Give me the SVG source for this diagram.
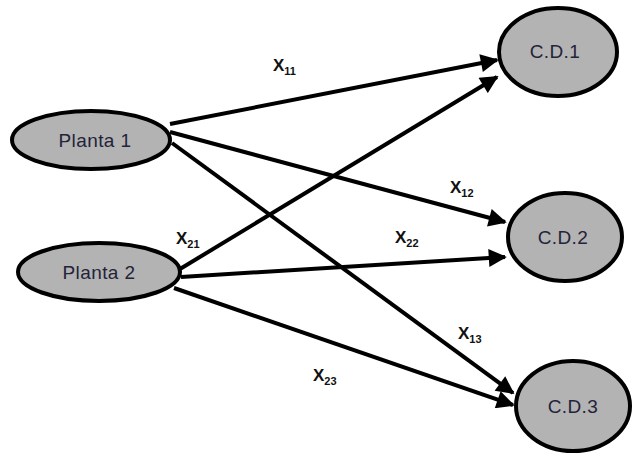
<svg xmlns="http://www.w3.org/2000/svg" width="640" height="464" viewBox="0 0 640 464">
<style>
.node{fill:#b3b3b3;stroke:#000;stroke-width:4}
.nt{font-family:"Liberation Sans",Arial,sans-serif;font-size:19px;letter-spacing:0.4px;fill:#23233a;text-anchor:middle}
.edge{stroke:#000;stroke-width:4;fill:none;marker-end:url(#ah)}
.lab{font-family:"Liberation Sans",Arial,sans-serif;font-weight:bold;font-size:17px;fill:#111}
.sub{font-size:11px}
</style>
<defs>
<marker id="ah" viewBox="0 0 10 10" refX="9" refY="5" markerWidth="5" markerHeight="4.5" orient="auto" markerUnits="strokeWidth">
<path d="M0,0 L10,5 L0,10 Z" fill="#000"/>
</marker>
</defs>
<rect width="640" height="464" fill="#fff"/>
<g id="connectors">
<line class="edge" x1="170" y1="124" x2="497" y2="60"/>
<line class="edge" x1="170" y1="132" x2="505" y2="222"/>
<line class="edge" x1="172" y1="143" x2="513" y2="393"/>
<line class="edge" x1="180" y1="269" x2="497" y2="77"/>
<line class="edge" x1="181" y1="277" x2="505" y2="257"/>
<line class="edge" x1="174" y1="288" x2="513" y2="405"/>
</g>
<g id="labels">
<text class="lab" x="273" y="71">X<tspan class="sub" dy="4">11</tspan></text>
<text class="lab" x="450" y="193">X<tspan class="sub" dy="4">12</tspan></text>
<text class="lab" x="458" y="339">X<tspan class="sub" dy="4">13</tspan></text>
<text class="lab" x="176" y="244">X<tspan class="sub" dy="4">21</tspan></text>
<text class="lab" x="395" y="243">X<tspan class="sub" dy="4">22</tspan></text>
<text class="lab" x="313" y="381">X<tspan class="sub" dy="4">23</tspan></text>
</g>
<g id="planta1"><ellipse class="node" cx="91" cy="140" rx="79" ry="29"/><text class="nt" x="95" y="147">Planta 1</text></g>
<g id="planta2"><ellipse class="node" cx="99" cy="272" rx="81" ry="29"/><text class="nt" x="99" y="279">Planta 2</text></g>
<g id="cd1"><ellipse class="node" cx="558" cy="52" rx="59" ry="44"/><text class="nt" x="555" y="58">C.D.1</text></g>
<g id="cd2"><ellipse class="node" cx="565" cy="237" rx="57" ry="44"/><text class="nt" x="563" y="244">C.D.2</text></g>
<g id="cd3"><ellipse class="node" cx="573" cy="406" rx="57" ry="45"/><text class="nt" x="573" y="413">C.D.3</text></g>
</svg>
